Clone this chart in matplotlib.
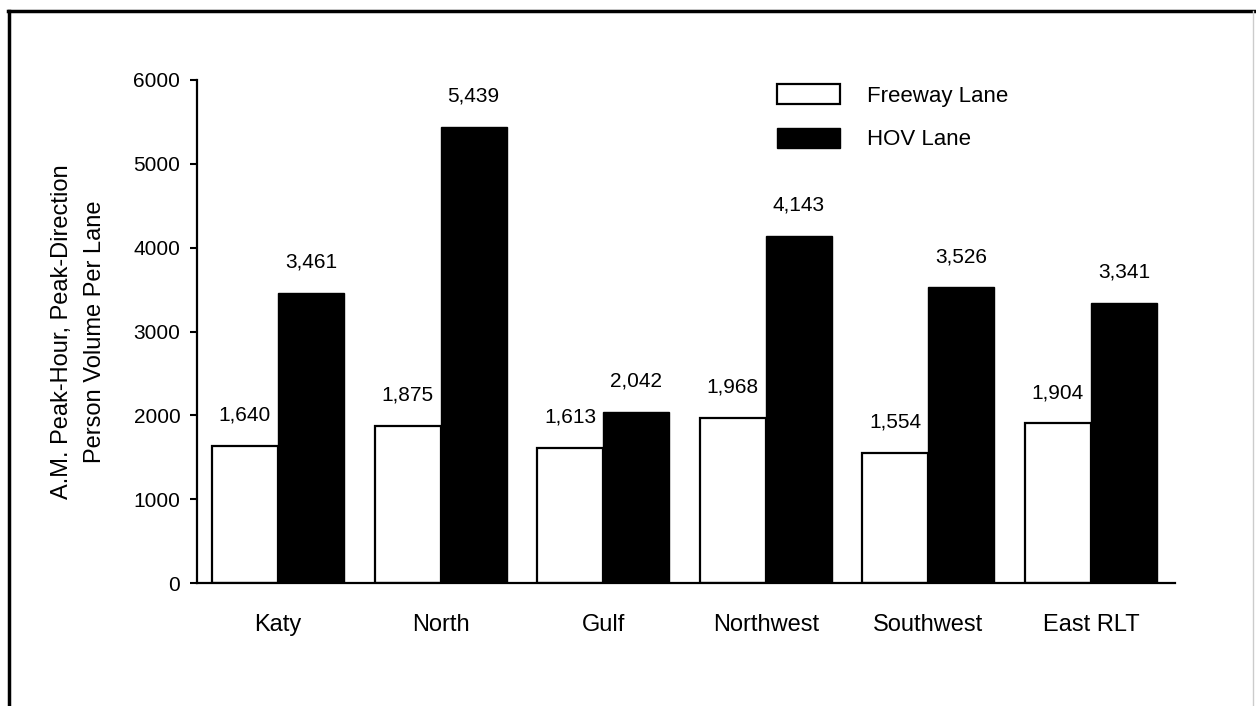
import matplotlib
matplotlib.use('Agg')
import matplotlib.pyplot as plt
import numpy as np
from matplotlib.lines import Line2D

plt.rcParams['font.family'] = ['Liberation Sans', 'DejaVu Sans']

corridors = ['Katy', 'North', 'Gulf', 'Northwest', 'Southwest', 'East RLT']
freeway = [1640, 1875, 1613, 1968, 1554, 1904]
hov = [3461, 5439, 2042, 4143, 3526, 3341]
series_names = ['Freeway Lane', 'HOV Lane']
yticks = [0, 1000, 2000, 3000, 4000, 5000, 6000]

fig = plt.figure(figsize=(12.56, 7.06), dpi=100)
ax = fig.add_axes([0.1568, 0.1742, 0.7787, 0.7125])

x = np.arange(len(corridors))
w = 0.406
b1 = ax.bar(x - w/2, freeway, w, color='white', edgecolor='black', linewidth=1.6, label=series_names[0])
b2 = ax.bar(x + w/2, hov, w, color='black', edgecolor='black', linewidth=1.0, label=series_names[1])

for xi, v in zip(x - w/2, freeway):
    ax.annotate('{:,}'.format(v), (xi, v), xytext=(0, 22), textcoords='offset points',
                ha='center', va='center', fontsize=15)
for xi, v in zip(x + w/2, hov):
    ax.annotate('{:,}'.format(v), (xi, v), xytext=(0, 22), textcoords='offset points',
                ha='center', va='center', fontsize=15)

ax.set_xlim(-0.498, 5.517)
ax.set_ylim(0, 6000)
ax.set_yticks(yticks)
ax.set_xticks(x)
ax.set_xticklabels(corridors, fontsize=17)
ax.tick_params(axis='x', length=0, pad=22)
ax.tick_params(axis='y', length=5, width=1.5, pad=7, labelsize=15)
for s in ['top', 'right']:
    ax.spines[s].set_visible(False)
ax.spines['left'].set_linewidth(1.6)
ax.spines['bottom'].set_linewidth(1.6)

ax.set_ylabel('A.M. Peak-Hour, Peak-Direction\nPerson Volume Per Lane', fontsize=17,
              linespacing=1.6, labelpad=20)

leg = ax.legend(loc='upper left', bbox_to_anchor=(777/1256., 1 - 84/706.),
                bbox_transform=fig.transFigure, frameon=False, fontsize=16,
                handlelength=2.85, handleheight=1.0, handletextpad=1.2,
                labelspacing=0.95, borderpad=0, borderaxespad=0)

# outer frame of the scanned page
fig.add_artist(Line2D([8/1256., 1.0], [1 - 11/706., 1 - 11/706.], transform=fig.transFigure,
                      color='black', linewidth=2.5))
fig.add_artist(Line2D([9/1256., 9/1256.], [0, 1 - 11/706.], transform=fig.transFigure,
                      color='black', linewidth=2.5))
fig.add_artist(Line2D([1253/1256., 1253/1256.], [0, 1 - 11/706.], transform=fig.transFigure,
                      color='#cccccc', linewidth=1.0))

fig.savefig('out.png', dpi=100)
